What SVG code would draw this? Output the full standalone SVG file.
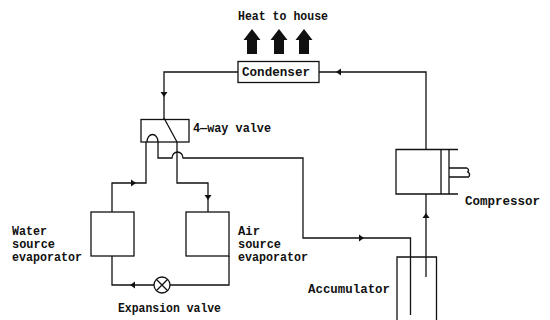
<svg xmlns="http://www.w3.org/2000/svg" width="550" height="320" viewBox="0 0 550 320">
<style>
.l{fill:none;stroke:#111;stroke-width:1.3}
.b{fill:#fff;stroke:#111;stroke-width:1.3}
.a{fill:#111;stroke:none}
text{font-family:"Liberation Mono","Courier New",monospace;font-size:12.500px;font-weight:bold;fill:#111}
</style>
<defs>
<path id="ah" class="a" d="M0 -3.500L5 0L0 3.500Z"/>
<path id="up" class="a" d="M0 -11L8.500 0H5V14H-5V0H-8.500Z"/>
</defs>
<rect width="550" height="320" fill="#fff"/>
<g id="connectors">
<path class="l" d="M238 72H164V119"/>
<path class="l" d="M319 72H426V149"/>
<path class="l" d="M146 142V183H112V212"/>
<path class="l" d="M177 142V183H208V212"/>
<path class="l" d="M158 142V158H172A5.500 6 0 0 1 183 158H303V238H410.500V315"/>
<path class="l" d="M426 194V277"/>
<path class="l" d="M112 256V285H154M170 285H229V256"/>
<use href="#ah" transform="translate(164,92) rotate(90)"/>
<use href="#ah" transform="translate(341,72) rotate(180)"/>
<use href="#ah" transform="translate(131,183)"/>
<use href="#ah" transform="translate(208,195) rotate(90)"/>
<use href="#ah" transform="translate(359,238)"/>
<use href="#ah" transform="translate(426,218) rotate(-90)"/>
<use href="#ah" transform="translate(135,285) rotate(180)"/>
</g>
<g id="heat">
<text x="238" y="20" textLength="90" lengthAdjust="spacingAndGlyphs">Heat to house</text>
<use href="#up" x="252" y="40"/>
<use href="#up" x="279" y="40"/>
<use href="#up" x="304" y="40"/>
</g>
<g id="condenser">
<rect class="b" x="238" y="61.500" width="81" height="21"/>
<text x="242" y="76" textLength="68" lengthAdjust="spacingAndGlyphs">Condenser</text>
</g>
<g id="valve">
<rect class="b" x="141" y="119.500" width="48" height="22.500"/>
<path class="l" d="M164 118L177 142M147 142A5.500 7.500 0 0 1 158 142"/>
<text x="193" y="132" textLength="78" lengthAdjust="spacingAndGlyphs">4—way valve</text>
</g>
<g id="water">
<rect class="b" x="91" y="212" width="43" height="44"/>
<text x="12" y="235" textLength="35" lengthAdjust="spacingAndGlyphs">Water</text>
<text x="12" y="248" textLength="43" lengthAdjust="spacingAndGlyphs">source</text>
<text x="12" y="261" textLength="70" lengthAdjust="spacingAndGlyphs">evaporator</text>
</g>
<g id="air">
<rect class="b" x="186" y="212" width="43" height="44"/>
<text x="238" y="235" textLength="22" lengthAdjust="spacingAndGlyphs">Air</text>
<text x="238" y="248" textLength="43" lengthAdjust="spacingAndGlyphs">source</text>
<text x="238" y="261" textLength="70" lengthAdjust="spacingAndGlyphs">evaporator</text>
</g>
<g id="expansion">
<circle class="b" cx="162" cy="285" r="8"/>
<path class="l" d="M156.300 279.300L167.700 290.700M167.700 279.300L156.300 290.700"/>
<text x="118" y="312" textLength="103" lengthAdjust="spacingAndGlyphs">Expansion valve</text>
</g>
<g id="compressor">
<path class="l" d="M458 149.500H396V194H458M441 149.500V194M449 149.500V194M449 168H467M449 177H469M467 168C471 171 466 172 468 172C471 174 469 176 469 177"/>
<text x="465" y="205" textLength="75" lengthAdjust="spacingAndGlyphs">Compressor</text>
</g>
<g id="accumulator">
<path class="l" d="M397 320V257H436.500V320"/>
<text x="308" y="293" textLength="82" lengthAdjust="spacingAndGlyphs">Accumulator</text>
</g>
</svg>
